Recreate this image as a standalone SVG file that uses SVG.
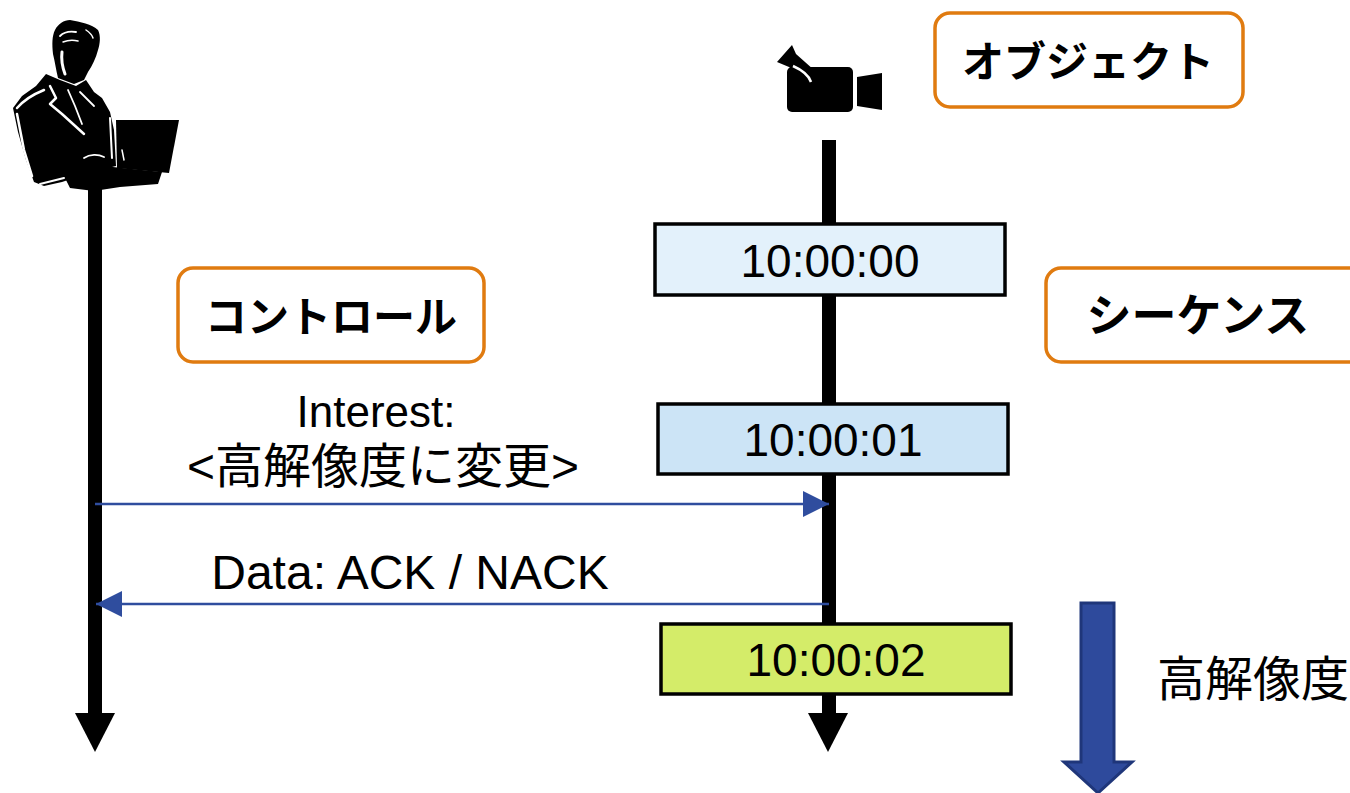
<svg xmlns="http://www.w3.org/2000/svg" width="1350" height="793" viewBox="0 0 1350 793">
  <style>
    .lifeline { fill: #000; }
    .msg { stroke: #2F4D9E; stroke-width: 2.5; fill: none; }
    .label { fill: #fff; stroke: #E07B10; stroke-width: 3.5; }
    .label-text { font-family: "Noto Sans CJK JP", "Liberation Sans", sans-serif; font-weight: bold; font-size: 42px; fill: #000; text-anchor: middle; }
    .time { stroke: #000; stroke-width: 3.5; }
    .time-text { font-family: "Liberation Sans", Arial, sans-serif; font-size: 46px; fill: #000; text-anchor: middle; }
    .msg-text { font-family: "Liberation Sans", Arial, "Noto Sans CJK JP", sans-serif; font-size: 48px; fill: #000; text-anchor: middle; }
  </style>
  <defs>
    <marker id="blueHead" viewBox="0 0 10 10" refX="10" refY="5" markerUnits="userSpaceOnUse" markerWidth="27" markerHeight="26" orient="auto">
      <path d="M0,0 L10,5 L0,10 Z" fill="#2F4D9E"/>
    </marker>
  </defs>

  <rect width="1350" height="793" fill="#fff"/>

  <!-- lifelines -->
  <g id="lifelines">
    <rect class="lifeline" x="88" y="188" width="14" height="528"/>
    <polygon class="lifeline" points="75,713 115,713 95,752"/>
    <rect class="lifeline" x="822" y="140" width="14" height="576"/>
    <polygon class="lifeline" points="808,713 848,713 828,752"/>
  </g>

  <!-- user at a laptop -->
  <g id="user" fill="#000">
    <!-- head and hair -->
    <path d="M55,30 C58,24 64,20 70,20 C80,22 92,24 98,30 C101,36 100,44 98,50 C96,58 92,66 88,72 L84,80 L74,84 L58,78 C56,70 55,62 53,54 C52,44 52,36 55,30 Z"/>
    <!-- jacket -->
    <path d="M46,74 L60,80 L76,86 L86,80 L94,92 L102,98 L110,112 L114,130 L116,166 L100,170 L80,176 L62,182 L44,186 L34,182 L26,160 L18,132 L13,108 L22,96 L36,86 Z"/>
    <!-- laptop screen -->
    <path d="M116,120 L179,120 L169,173 L117,168 Z"/>
    <!-- laptop base and hands -->
    <path d="M64,176 L84,168 L104,166 L122,168 L162,172 L158,184 L120,187 L94,191 L70,188 Z"/>
    <rect x="88" y="186" width="14" height="6"/>
    <!-- highlights -->
    <g fill="none" stroke="#fff" stroke-linecap="round" stroke-linejoin="round">
      <path d="M60,36 C64,32 70,31 76,32" stroke-width="1.8"/>
      <path d="M63,42 C68,40 74,40 78,41" stroke-width="1.5"/>
      <path d="M86,30 C89,32 92,35 93,38" stroke-width="1.5"/>
      <path d="M62,52 C61,60 62,66 65,74" stroke-width="3"/>
      <path d="M17,108 C24,100 34,94 44,90" stroke-width="2.5"/>
      <path d="M17,114 L24,150 L32,176" stroke-width="2.5"/>
      <path d="M50,86 L56,98 L50,104 L62,114 L84,134" stroke-width="2.5"/>
      <path d="M68,90 L75,106 L82,124" stroke-width="1.8"/>
      <path d="M80,92 L94,106" stroke-width="1.8"/>
      <path d="M110,118 L112,158" stroke-width="2"/>
      <path d="M84,158 C90,154 98,154 104,157" stroke-width="1.8"/>
      <path d="M122,150 L124,160" stroke-width="1.5"/>
      <path d="M40,184 L64,178" stroke-width="2"/>
    </g>
  </g>

  <!-- video camera -->
  <g id="camera" fill="#000">
    <rect x="787" y="67" width="66" height="45" rx="5"/>
    <path d="M857,77 L882,73 L882,110 L857,106 Z"/>
    <path d="M777,62 L792,45 L796,54 L814,70 C816,77 811,81 805,80 L789,67 Z"/>
    <path d="M793,66 C802,70 809,76 811,82" fill="none" stroke="#fff" stroke-width="2.5"/>
  </g>

  <!-- category labels -->
  <g id="label-object">
    <rect class="label" x="935" y="13" width="308" height="94" rx="15"/>
    <text class="label-text" x="1088" y="77">オブジェクト</text>
  </g>
  <g id="label-control">
    <rect class="label" x="178" y="268" width="306" height="94" rx="15"/>
    <text class="label-text" x="331" y="332">コントロール</text>
  </g>
  <g id="label-sequence">
    <rect class="label" x="1046" y="268" width="320" height="94" rx="15"/>
    <text class="label-text" x="1198" y="332" style="font-size:45px">シーケンス</text>
  </g>

  <!-- timestamps -->
  <g id="t0">
    <rect class="time" x="655" y="224" width="350" height="71" fill="#E3F1FB"/>
    <text class="time-text" x="830" y="277">10:00:00</text>
  </g>
  <g id="t1">
    <rect class="time" x="658" y="404" width="350" height="70" fill="#CCE4F6"/>
    <text class="time-text" x="833" y="456">10:00:01</text>
  </g>
  <g id="t2">
    <rect class="time" x="661" y="624" width="350" height="70" fill="#D4EC69"/>
    <text class="time-text" x="836" y="676">10:00:02</text>
  </g>

  <!-- messages -->
  <g id="connectors">
    <line class="msg" x1="95" y1="504" x2="829" y2="504" marker-end="url(#blueHead)"/>
    <line class="msg" x1="829" y1="604" x2="96" y2="604" marker-end="url(#blueHead)"/>
  </g>
  <g id="msg-labels">
    <text class="msg-text" x="376" y="427" style="font-size:44px">Interest:</text>
    <text class="msg-text" x="383" y="483">&lt;高解像度に変更&gt;</text>
    <text class="msg-text" x="410" y="589">Data: ACK / NACK</text>
  </g>

  <!-- resolution change -->
  <g id="resolution">
    <path d="M1081,603 L1114,603 L1114,762 L1132,762 L1098,793 L1064,762 L1081,762 Z" fill="#2E4A9C" stroke="#1F367A" stroke-width="3"/>
    <text x="1253" y="696" font-family="Noto Sans CJK JP, sans-serif" font-size="48" text-anchor="middle" fill="#000">高解像度</text>
  </g>
</svg>
